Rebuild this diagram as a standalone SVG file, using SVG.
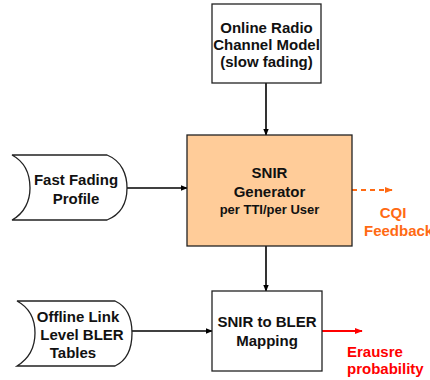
<svg xmlns="http://www.w3.org/2000/svg" width="430" height="380" viewBox="0 0 430 380">
<defs>
<style>
.box{fill:#fff;stroke:#222;stroke-width:1.3}
.t{font-family:"Liberation Sans",Arial,sans-serif;font-weight:bold;font-size:15px;fill:#111;text-anchor:middle}
.s{font-size:13px}
.c{stroke:#000;stroke-width:1.6;fill:none}
</style>
<marker id="ah" viewBox="0 0 10 10" refX="9" refY="5" markerWidth="4.5" markerHeight="4.5" orient="auto"><path d="M0,1 L10,5 L0,9 Z" fill="#000"/></marker>
<marker id="ahO" viewBox="0 0 10 10" refX="9" refY="5" markerWidth="4.5" markerHeight="4.5" orient="auto"><path d="M0,1 L10,5 L0,9 Z" fill="#FF6A13"/></marker>
<marker id="ahR" viewBox="0 0 10 10" refX="9" refY="5" markerWidth="4.5" markerHeight="4.5" orient="auto"><path d="M0,1 L10,5 L0,9 Z" fill="#FF0000"/></marker>
</defs>
<rect width="430" height="380" fill="#fff"/>
<g id="connectors">
<line class="c" x1="266" y1="83" x2="266" y2="135" marker-end="url(#ah)"/>
<line class="c" x1="127" y1="188" x2="187" y2="188" marker-end="url(#ah)"/>
<line class="c" x1="266" y1="246" x2="266" y2="291" marker-end="url(#ah)"/>
<line class="c" x1="132" y1="331" x2="212" y2="331" marker-end="url(#ah)"/>
<line x1="352" y1="190" x2="392" y2="190" stroke="#FF6A13" stroke-width="1.8" stroke-dasharray="5,4" marker-end="url(#ahO)"/>
<line x1="322" y1="331" x2="362" y2="331" stroke="#FF0000" stroke-width="1.8" marker-end="url(#ahR)"/>
</g>
<g id="online-radio">
<rect class="box" x="212" y="4" width="109" height="79"/>
<text class="t" x="266.5" y="33">Online Radio</text>
<text class="t" x="266.5" y="50">Channel Model</text>
<text class="t" x="266.5" y="67">(slow fading)</text>
</g>
<g id="snir-generator">
<rect x="187" y="135" width="165" height="111" fill="#FFCC99" stroke="#222" stroke-width="1.3"/>
<text class="t" x="269.5" y="178">SNIR</text>
<text class="t" x="269.5" y="197">Generator</text>
<text class="t s" x="269.5" y="214">per TTI/per User</text>
</g>
<g id="fast-fading">
<path class="box" d="M12,155 L107,155 C122,161 127,175 127,188 C127,202 122,214 107,220 L12,220 C25,213 30,200 30,188 C30,175 25,162 12,155 Z"/>
<text class="t" x="76" y="185">Fast Fading</text>
<text class="t" x="76" y="204">Profile</text>
</g>
<g id="offline-tables">
<path class="box" d="M17,301 L115,301 C128,307 132,320 132,333 C132,347 128,360 115,366 L17,366 C30,358 35,346 35,333 C35,320 30,308 17,301 Z"/>
<text class="t" x="78" y="322">Offline Link</text>
<text class="t" x="82" y="340">Level BLER</text>
<text class="t" x="73" y="358">Tables</text>
</g>
<g id="snir-bler">
<rect class="box" x="212" y="291" width="110" height="80"/>
<text class="t" x="267" y="327">SNIR to BLER</text>
<text class="t" x="267" y="346">Mapping</text>
</g>
<g id="cqi-label">
<text class="t" x="393" y="218" style="fill:#FF6A13">CQI</text>
<text class="t" x="364" y="236" style="fill:#FF6A13;text-anchor:start">Feedback</text>
</g>
<g id="erasure-label">
<text class="t" x="347" y="357" style="fill:#FF0000;text-anchor:start">Erausre</text>
<text class="t" x="347" y="374" style="fill:#FF0000;text-anchor:start">probability</text>
</g>
</svg>
